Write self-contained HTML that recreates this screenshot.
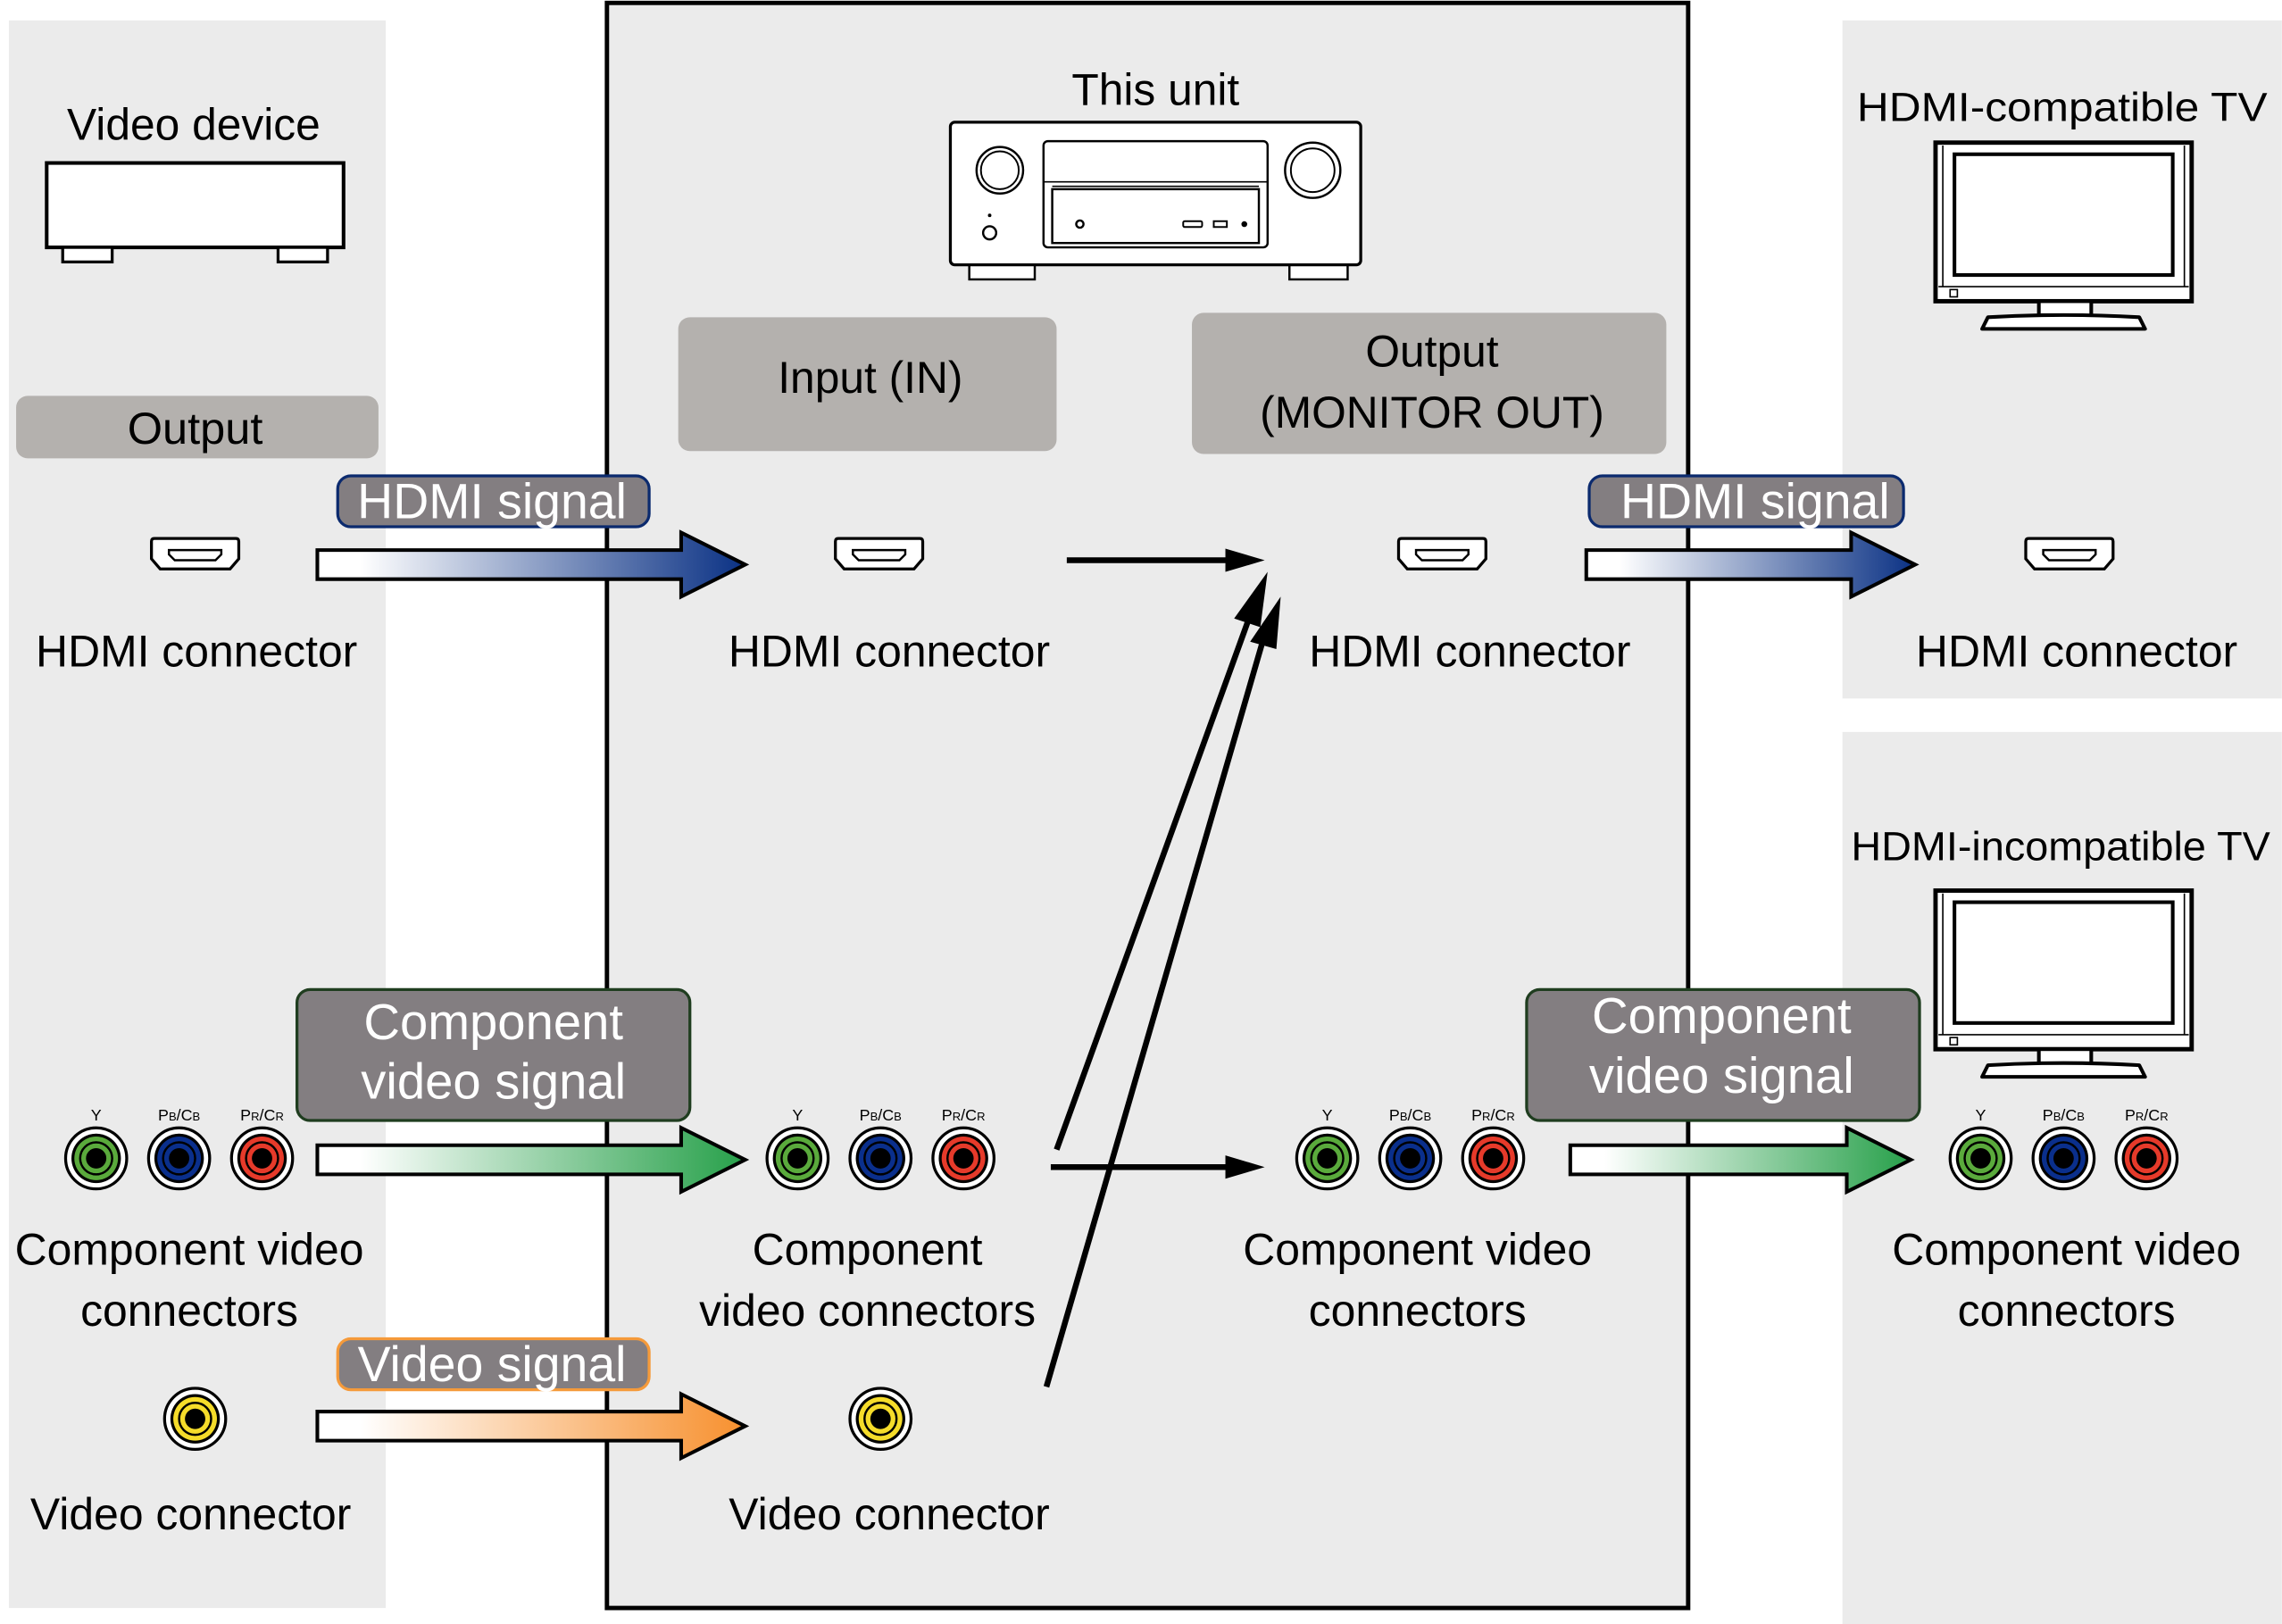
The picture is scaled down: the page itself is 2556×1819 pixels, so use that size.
<!DOCTYPE html>
<html><head><meta charset="utf-8"><style>
html,body{margin:0;padding:0;background:#fff}
svg{display:block}
text{font-family:"Liberation Sans",sans-serif}
</style></head><body>
<svg width="2556" height="1819" viewBox="0 0 1568 1116" xmlns="http://www.w3.org/2000/svg">
<defs>
<linearGradient id="gb" x1="0" x2="1"><stop offset="0.1" stop-color="#fff"/><stop offset="1" stop-color="#0a3184"/></linearGradient>
<linearGradient id="gg" x1="0" x2="1"><stop offset="0.1" stop-color="#fff"/><stop offset="1" stop-color="#27a04a"/></linearGradient>
<linearGradient id="go" x1="0" x2="1"><stop offset="0.1" stop-color="#fff"/><stop offset="1" stop-color="#f7902e"/></linearGradient>
<g id="hdmi"><path d="M-30,-10 Q-30,-12 -28,-12 L28,-12 Q30,-12 30,-10 L30,2 L24,9 L-24,9 L-30,2 Z" fill="#fff" stroke="#000" stroke-width="2"/><path d="M-18,-4 L18,-4 L18,-1 L14,3 L-14,3 L-18,-1 Z" fill="#fff" stroke="#000" stroke-width="1.5"/></g>
<g id="jg"><circle r="21" fill="#fff" stroke="#000" stroke-width="2"/><circle r="17" fill="#000"/><circle r="15" fill="#5aaa3c"/><circle r="11" fill="none" stroke="#000" stroke-width="1.5"/><circle r="7" fill="#000"/></g>
<g id="jb"><circle r="21" fill="#fff" stroke="#000" stroke-width="2"/><circle r="17" fill="#000"/><circle r="15" fill="#0a2f8c"/><circle r="11" fill="none" stroke="#000" stroke-width="1.5"/><circle r="7" fill="#000"/></g>
<g id="jr"><circle r="21" fill="#fff" stroke="#000" stroke-width="2"/><circle r="17" fill="#000"/><circle r="15" fill="#e63a2a"/><circle r="11" fill="none" stroke="#000" stroke-width="1.5"/><circle r="7" fill="#000"/></g>
<g id="jy"><circle r="21" fill="#fff" stroke="#000" stroke-width="2"/><circle r="17" fill="#000"/><circle r="15" fill="#f5dc2a"/><circle r="11" fill="none" stroke="#000" stroke-width="1.5"/><circle r="7" fill="#000"/></g>
<g id="comp">
<use href="#jg" x="0" y="0"/><use href="#jb" x="57" y="0"/><use href="#jr" x="114" y="0"/>
<text x="0" y="-26" font-size="11" text-anchor="middle">Y</text>
<text x="57" y="-26" font-size="11" text-anchor="middle">P<tspan font-size="8">B</tspan>/C<tspan font-size="8">B</tspan></text>
<text x="114" y="-26" font-size="11" text-anchor="middle">P<tspan font-size="8">R</tspan>/C<tspan font-size="8">R</tspan></text>
</g>
<g id="tv">
<rect x="0" y="0" width="176" height="109" fill="#fff" stroke="#000" stroke-width="3"/>
<line x1="5" y1="2" x2="5" y2="99" stroke="#000" stroke-width="1"/><line x1="171" y1="2" x2="171" y2="99" stroke="#000" stroke-width="1"/>
<line x1="2" y1="99" x2="174" y2="99" stroke="#000" stroke-width="1"/>
<rect x="13" y="8" width="150" height="83" fill="#fff" stroke="#000" stroke-width="2.5"/>
<rect x="10" y="101" width="5" height="5" fill="#fff" stroke="#000" stroke-width="1"/>
<rect x="71" y="109" width="36" height="10" fill="#fff" stroke="#000" stroke-width="2.5"/>
<path d="M32,128 L36,120 Q88,117 140,120 L144,128 Z" fill="#fff" stroke="#000" stroke-width="2.5" stroke-linejoin="round"/>
</g>
</defs>

<rect x="6" y="14" width="259" height="1091" fill="#ebebeb"/>
<rect x="417" y="2" width="743" height="1103" fill="#ebebeb" stroke="#000" stroke-width="3"/>
<rect x="1266" y="14" width="302" height="466" fill="#ebebeb"/>
<rect x="1266" y="503" width="302" height="613" fill="#ebebeb"/>

<text x="133" y="96" font-size="30.5" text-anchor="middle">Video device</text>
<rect x="32" y="112" width="204" height="58" fill="#fff" stroke="#000" stroke-width="2.5"/>
<rect x="43" y="170" width="34" height="10" fill="#fff" stroke="#000" stroke-width="2"/>
<rect x="191" y="170" width="34" height="10" fill="#fff" stroke="#000" stroke-width="2"/>

<text x="794" y="72" font-size="30.5" text-anchor="middle">This unit</text>
<rect x="666" y="181" width="45" height="11" fill="#fff" stroke="#000" stroke-width="1.5"/>
<rect x="886" y="181" width="40" height="11" fill="#fff" stroke="#000" stroke-width="1.5"/>
<rect x="653" y="84" width="282" height="98" rx="3" fill="#fff" stroke="#000" stroke-width="2"/>
<rect x="717" y="97" width="154" height="73" rx="3" fill="#fff" stroke="#000" stroke-width="1.5"/>
<line x1="717" y1="125" x2="871" y2="125" stroke="#000" stroke-width="1"/>
<rect x="723" y="130" width="142" height="37" fill="#fff" stroke="#000" stroke-width="1.5"/>
<line x1="723" y1="128" x2="865" y2="128" stroke="#000" stroke-width="1"/>
<circle cx="687" cy="117" r="16" fill="#fff" stroke="#000" stroke-width="1.5"/><circle cx="687" cy="117" r="13" fill="#fff" stroke="#000" stroke-width="1.2"/>
<circle cx="902" cy="117" r="19" fill="#fff" stroke="#000" stroke-width="1.5"/><circle cx="902" cy="117" r="15" fill="#fff" stroke="#000" stroke-width="1.2"/>
<circle cx="680" cy="160" r="4.5" fill="#fff" stroke="#000" stroke-width="1.5"/><circle cx="680" cy="148" r="1.2" fill="#000"/>
<circle cx="742" cy="154" r="2.5" fill="#fff" stroke="#000" stroke-width="1.5"/>
<rect x="813" y="152" width="13" height="4" rx="1" fill="#fff" stroke="#000" stroke-width="1.2"/>
<rect x="834" y="152" width="9" height="4" fill="#fff" stroke="#000" stroke-width="1.2"/>
<circle cx="855" cy="154" r="2" fill="#000"/>

<text x="1417" y="83" font-size="28" text-anchor="middle" textLength="282" lengthAdjust="spacingAndGlyphs">HDMI-compatible TV</text>
<use href="#tv" x="1330" y="98"/>
<text x="1416" y="591" font-size="28" text-anchor="middle" textLength="288" lengthAdjust="spacingAndGlyphs">HDMI-incompatible TV</text>
<use href="#tv" x="1330" y="612"/>

<rect x="11" y="272" width="249" height="43" rx="8" fill="#b4b1ae"/>
<text x="134" y="305" font-size="31" text-anchor="middle">Output</text>
<rect x="466" y="218" width="260" height="92" rx="8" fill="#b4b1ae"/>
<text x="598" y="270" font-size="30.5" text-anchor="middle">Input (IN)</text>
<rect x="819" y="215" width="326" height="97" rx="8" fill="#b4b1ae"/>
<text x="984" y="252" font-size="30.5" text-anchor="middle">Output</text>
<text x="984" y="294" font-size="30.5" text-anchor="middle">(MONITOR OUT)</text>

<use href="#hdmi" x="134" y="382"/><use href="#hdmi" x="604" y="382"/><use href="#hdmi" x="991" y="382"/><use href="#hdmi" x="1422" y="382"/>
<g font-size="30.6" text-anchor="middle">
<text x="135" y="458">HDMI connector</text><text x="611" y="458">HDMI connector</text><text x="1010" y="458">HDMI connector</text><text x="1427" y="458">HDMI connector</text>
<text x="130" y="869">Component video</text><text x="130" y="911">connectors</text>
<text x="596" y="869">Component</text><text x="596" y="911">video connectors</text>
<text x="974" y="869">Component video</text><text x="974" y="911">connectors</text>
<text x="1420" y="869">Component video</text><text x="1420" y="911">connectors</text>
<text x="131" y="1051">Video connector</text><text x="611" y="1051">Video connector</text>
</g>

<use href="#comp" x="66" y="796"/><use href="#comp" x="548" y="796"/><use href="#comp" x="912" y="796"/><use href="#comp" x="1361" y="796"/>
<use href="#jy" x="134" y="975"/><use href="#jy" x="605" y="975"/>

<path d="M218,378 L468,378 L468,366 L512,388 L468,410 L468,398 L218,398 Z" fill="url(#gb)" stroke="#000" stroke-width="2.5"/>
<path d="M1090,378 L1272,378 L1272,366 L1316,388 L1272,410 L1272,398 L1090,398 Z" fill="url(#gb)" stroke="#000" stroke-width="2.5"/>
<path d="M218,787 L468,787 L468,775 L512,797 L468,819 L468,807 L218,807 Z" fill="url(#gg)" stroke="#000" stroke-width="2.5"/>
<path d="M1079,787 L1269,787 L1269,775 L1313,797 L1269,819 L1269,807 L1079,807 Z" fill="url(#gg)" stroke="#000" stroke-width="2.5"/>
<path d="M218,970 L468,970 L468,958 L512,980 L468,1002 L468,990 L218,990 Z" fill="url(#go)" stroke="#000" stroke-width="2.5"/>

<rect x="232" y="327" width="214" height="35" rx="9" fill="#837e81" stroke="#0b2a6e" stroke-width="2"/>
<text x="338" y="356" font-size="34" fill="#fff" text-anchor="middle">HDMI signal</text>
<rect x="1092" y="327" width="216" height="35" rx="9" fill="#837e81" stroke="#0b2a6e" stroke-width="2"/>
<text x="1206" y="356" font-size="34" fill="#fff" text-anchor="middle">HDMI signal</text>
<rect x="204" y="680" width="270" height="90" rx="9" fill="#837e81" stroke="#1f3d1f" stroke-width="2"/>
<text x="339" y="714" font-size="34.5" fill="#fff" text-anchor="middle">Component</text>
<text x="339" y="755" font-size="34.5" fill="#fff" text-anchor="middle">video signal</text>
<rect x="1049" y="680" width="270" height="90" rx="9" fill="#837e81" stroke="#1f3d1f" stroke-width="2"/>
<text x="1183" y="710" font-size="34.5" fill="#fff" text-anchor="middle">Component</text>
<text x="1183" y="751" font-size="34.5" fill="#fff" text-anchor="middle">video signal</text>
<rect x="232" y="920" width="214" height="35" rx="9" fill="#837e81" stroke="#f59a3a" stroke-width="2"/>
<text x="338" y="949" font-size="34" fill="#fff" text-anchor="middle">Video signal</text>

<g stroke="#000" stroke-width="4" fill="none">
<line x1="733" y1="385" x2="845" y2="385"/>
<line x1="722" y1="802" x2="845" y2="802"/>
<line x1="726" y1="790" x2="860" y2="420"/>
<line x1="719" y1="953" x2="869" y2="436"/>
</g>
<g fill="#000">
<polygon points="869,385 842,377 842,393"/>
<polygon points="869,802 842,794 842,810"/>
<polygon points="871,393 848,425 866,431"/>
<polygon points="880,410 859,441 877,446"/>
</g>
</svg>
</body></html>
